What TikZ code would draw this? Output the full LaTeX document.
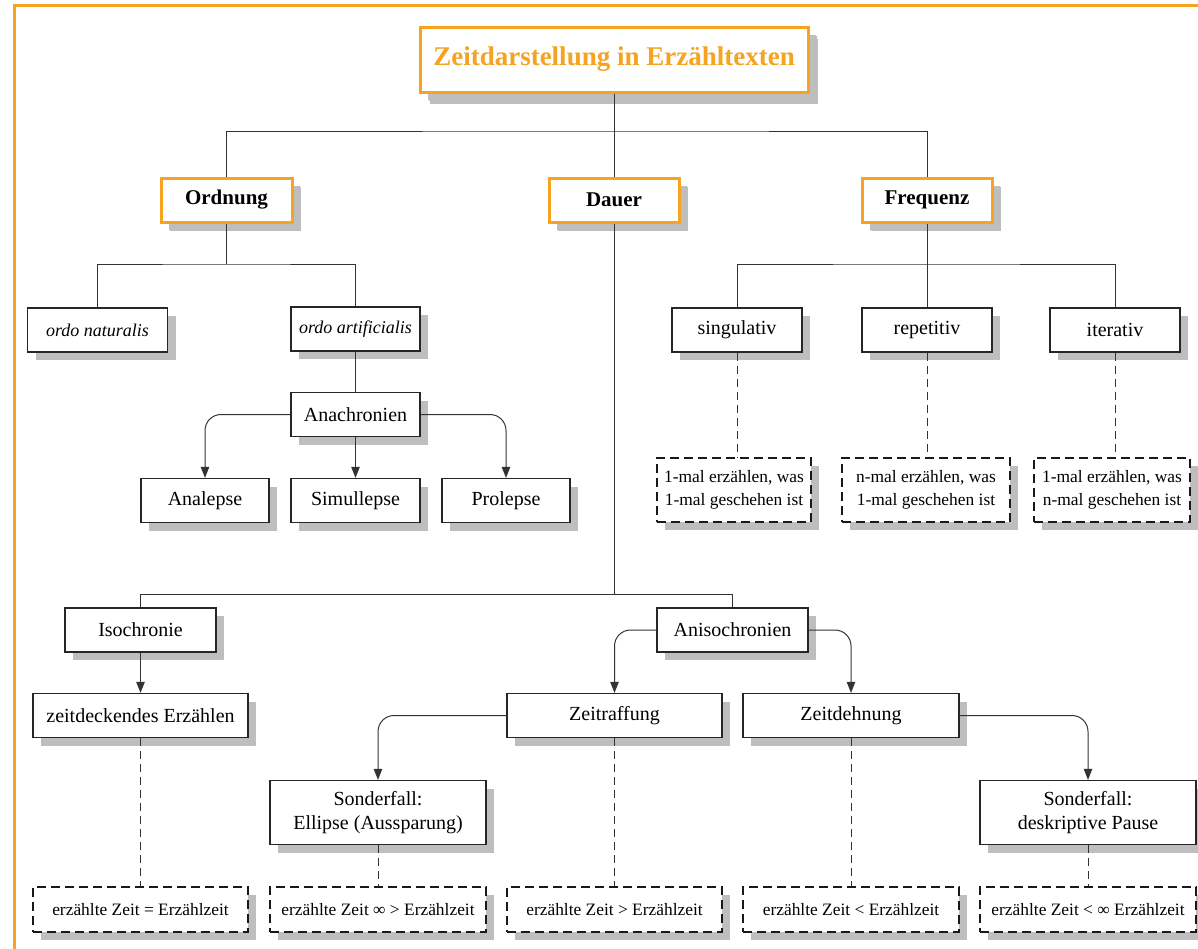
\documentclass[tikz,border=0pt]{standalone}
\usepackage{fontspec}
\setmainfont{Liberation Serif}
\usetikzlibrary{shadows,arrows.meta}

\definecolor{zorange}{RGB}{245,163,33}
\definecolor{zshadow}{RGB}{190,190,190}

\tikzset{
  box/.style={draw=black!85, line width=0.6pt, fill=white, inner sep=1pt,
    minimum height=22pt, align=center, font=\fontsize{10}{12}\selectfont,
    drop shadow={shadow xshift=4pt, shadow yshift=-4pt, fill=zshadow, opacity=1}},
  headbox/.style={box, draw=zorange, line width=1.5pt,
    font=\fontsize{10.5}{12}\selectfont\bfseries,
    drop shadow={shadow xshift=4.5pt, shadow yshift=-4.5pt, fill=zshadow, opacity=1}},
  titlebox/.style={headbox, text=zorange, font=\fontsize{13.5}{16}\selectfont\bfseries,
    drop shadow={shadow xshift=5pt, shadow yshift=-6pt, fill=zshadow, opacity=1}},
  latinbox/.style={box, font=\fontsize{9}{11}\selectfont\itshape},
  notebox/.style={box, draw=black!90, line width=0.55pt, dash pattern=on 4.5pt off 2.5pt,
    minimum height=22.5pt, font=\fontsize{8.7}{11.5}\selectfont},
  link/.style={draw=black!80, line width=0.5pt},
  arr/.style={link, -{Triangle[length=5.5pt,width=4.2pt]}},
  dlink/.style={link, dash pattern=on 4pt off 2.5pt},
}

\begin{document}
\begin{tikzpicture}[x=0.5pt,y=-0.5pt]

  \useasboundingbox (0,0) rectangle (1198,948);
  \draw[zorange, line width=1.5pt] (14,5) rectangle (1220,970); %% frame

  \node[titlebox, minimum width=194pt, minimum height=32.5pt]
    (title) at (614,59.5) {Zeitdarstellung in Erzähltexten};

  %% Ordnung / Dauer / Frequenz
  \node[headbox, minimum width=65.5pt] (ordnung) at (226.5,200) {Ordnung};
  \node[headbox, minimum width=65pt] (dauer) at (614,200) {Dauer};
  \node[headbox, minimum width=65pt] (frequenz) at (927,200) {Frequenz};

  %% Ordnung
  \node[latinbox, minimum width=70pt] (natur) at (97.5,330) {ordo naturalis};
  \node[latinbox, minimum width=64.5pt] (artif) at (355.5,329) {ordo artificialis};
  \node[box, minimum width=64.5pt] (anachr) at (355.5,414.5) {Anachronien};
  \node[box, minimum width=64pt] (analepse) at (205,500.5) {Analepse};
  \node[box, minimum width=64.5pt] (simul) at (355.5,500.5) {Simullepse};
  \node[box, minimum width=64pt] (prolepse) at (506,500.5) {Prolepse};

  %% Frequenz
  \node[box, minimum width=65pt] (singul) at (737,330) {singulativ};
  \node[box, minimum width=65pt] (repet) at (927,330) {repetitiv};
  \node[box, minimum width=65pt] (iter) at (1115,330) {iterativ};
  \node[notebox, minimum width=77pt, minimum height=32pt]
    (f1) at (734,490) {1-mal erzählen, was\\1-mal geschehen ist};
  \node[notebox, minimum width=84pt, minimum height=32pt]
    (f2) at (926,490) {n-mal erzählen, was\\1-mal geschehen ist};
  \node[notebox, minimum width=78pt, minimum height=32pt]
    (f3) at (1112,490) {1-mal erzählen, was\\n-mal geschehen ist};

  %% Dauer
  \node[box, minimum width=75.5pt] (isochr) at (140.5,630) {Isochronie};
  \node[box, minimum width=107.5pt] (deckend) at (140.5,715.5) {zeitdeckendes Erzählen};
  \node[box, minimum width=75.5pt] (aniso) at (732.5,630) {Anisochronien};
  \node[box, minimum width=107.5pt] (raffung) at (614.5,715.5) {Zeitraffung};
  \node[box, minimum width=108pt] (dehnung) at (851,715.5) {Zeitdehnung};
  \node[box, minimum width=108pt, minimum height=32pt]
    (ellipse) at (378,812.5) {Sonderfall:\\Ellipse (Aussparung)};
  \node[box, minimum width=108pt, minimum height=32pt]
    (pause) at (1088,812.5) {Sonderfall:\\deskriptive Pause};

  \node[notebox, minimum width=107.5pt] (e1) at (140.5,909.5) {erzählte Zeit = Erzählzeit};
  \node[notebox, minimum width=108pt] (e2) at (378,909.5) {erzählte Zeit ∞ > Erzählzeit};
  \node[notebox, minimum width=107.5pt] (e3) at (614.5,909.5) {erzählte Zeit > Erzählzeit};
  \node[notebox, minimum width=108pt] (e4) at (851,909.5) {erzählte Zeit < Erzählzeit};
  \node[notebox, minimum width=108pt] (e5) at (1088,909.5) {erzählte Zeit < ∞ Erzählzeit};

  \coordinate (top) at (614,131);
  \coordinate (ord) at (226.5,264);
  \coordinate (freq) at (927,264);
  \coordinate (dau) at (614,594);

  \draw[link] (title.south) -- (dauer.north);
  \draw[link] (ordnung.north) |- (top) -| (frequenz.north);

  \draw[link] (ordnung.south) -- (ord);
  \draw[link] (natur.north) |- (ord) -| (artif.north);
  \draw[link] (artif.south) -- (anachr.north);
  \draw[arr] (anachr.south) -- (simul.north);
  \draw[arr, rounded corners=8pt] (anachr.west) -| (analepse.north);
  \draw[arr, rounded corners=8pt] (anachr.east) -| (prolepse.north);

  \draw[link] (frequenz.south) -- (repet.north);
  \draw[link] (singul.north) |- (freq) -| (iter.north);
  \draw[dlink] (singul.south) -- (singul.south |- f1.north);
  \draw[dlink] (repet.south) -- (repet.south |- f2.north);
  \draw[dlink] (iter.south) -- (iter.south |- f3.north);

  \draw[link] (dauer.south) -- (dau);
  \draw[link] (isochr.north) |- (dau) -| (aniso.north);
  \draw[arr] (isochr.south) -- (deckend.north);
  \draw[dlink] (deckend.south) -- (e1.north);
  \draw[arr, rounded corners=8pt] (aniso.west) -| (raffung.north);
  \draw[arr, rounded corners=8pt] (aniso.east) -| (dehnung.north);
  \draw[arr, rounded corners=8pt] (raffung.west) -| (ellipse.north);
  \draw[arr, rounded corners=8pt] (dehnung.east) -| (pause.north);
  \draw[dlink] (ellipse.south) -- (e2.north);
  \draw[dlink] (raffung.south) -- (e3.north);
  \draw[dlink] (dehnung.south) -- (e4.north);
  \draw[dlink] (pause.south) -- (e5.north);

\end{tikzpicture}
\end{document}
